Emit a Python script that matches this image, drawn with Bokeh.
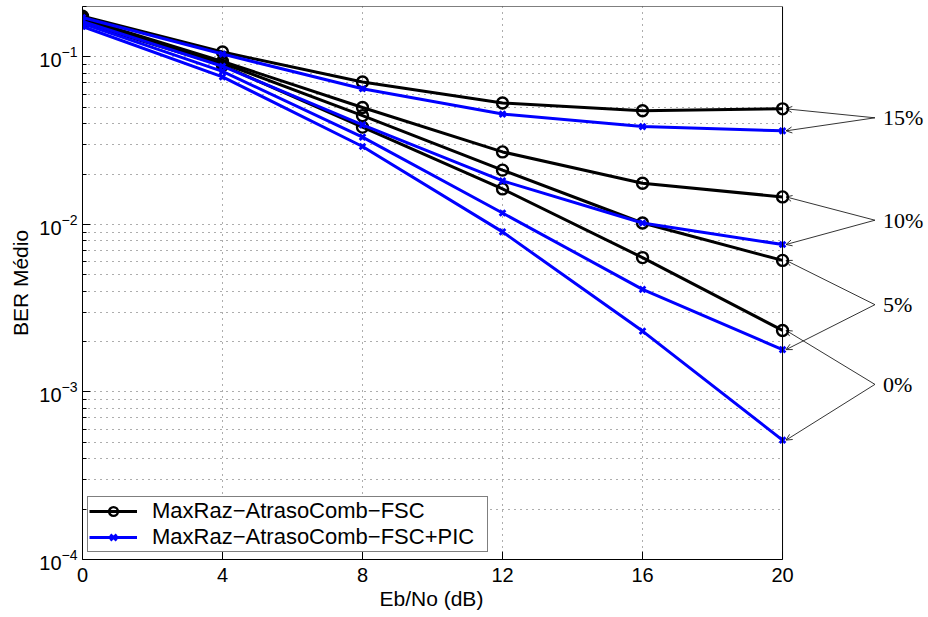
from bokeh.plotting import figure
from bokeh.models import (Range1d, FixedTicker, Legend, LegendItem, BoxAnnotation,
                          Arrow, OpenHead, Label, Title)
from bokeh.embed import file_html
from bokeh.resources import INLINE

# ---------------- data ----------------
ebno = [0, 4, 8, 12, 16, 20]

fsc_15 = [0.175, 0.107, 0.0709, 0.0531, 0.0477, 0.0490]
fsc_10 = [0.170, 0.094, 0.0499, 0.0271, 0.0176, 0.0146]
fsc_05 = [0.165, 0.092, 0.0446, 0.0211, 0.0102, 0.0061]
fsc_00 = [0.160, 0.089, 0.0381, 0.0163, 0.00634, 0.00233]

pic_15 = [0.172, 0.104, 0.0646, 0.0456, 0.0384, 0.0362]
pic_10 = [0.163, 0.088, 0.0393, 0.0182, 0.0102, 0.00759]
pic_05 = [0.158, 0.082, 0.0332, 0.0117, 0.0041, 0.00179]
pic_00 = [0.152, 0.076, 0.0292, 0.00903, 0.00231, 0.000516]

legend_labels = ["MaxRaz\u2212AtrasoComb\u2212FSC", "MaxRaz\u2212AtrasoComb\u2212FSC+PIC"]
x_ticks = [0, 4, 8, 12, 16, 20]
y_ticks = [1e-4, 1e-3, 1e-2, 1e-1]
X_MIN, X_MAX = 0, 20
Y_MIN, Y_MAX = 1e-4, 0.2

annot_text = ["15%", "10%", "5%", "0%"]
annot_y = [0.0433, 0.0106, 0.00332, 0.00111]
annot_fsc = [fsc_15, fsc_10, fsc_05, fsc_00]
annot_pic = [pic_15, pic_10, pic_05, pic_00]

# ---------------- figure ----------------
FONT = "Liberation Sans"
# frame widened to the right so that the annotation arrows/labels can be drawn;
# the part beyond x=20 is masked in white.
VIEW_MAX = 24.17
p = figure(width=928, height=617, x_range=Range1d(X_MIN, VIEW_MAX), y_range=Range1d(Y_MIN, Y_MAX),
           y_axis_type="log", output_backend="svg", toolbar_location=None,
           min_border_left=82, min_border_right=0, min_border_top=6, min_border_bottom=58,
           background_fill_color="white", border_fill_color="white")
p.outline_line_color = None

minor = [k * 10.0 ** e for e in (-4, -3, -2) for k in range(2, 10)] + [0.2]
xt = FixedTicker(ticks=x_ticks)
yt = FixedTicker(ticks=y_ticks, minor_ticks=minor)

xa = p.below[0]
ya = p.left[0]
xa.ticker = xt
ya.ticker = yt
xa.bounds = (X_MIN, X_MAX)
for ax in (xa, ya):
    ax.major_label_text_font = FONT
    ax.major_label_text_font_size = "20px"
    ax.major_label_text_color = "black"
    ax.axis_label_text_font = FONT
    ax.axis_label_text_font_size = "21px"
    ax.axis_label_text_font_style = "normal"
    ax.axis_label_text_color = "black"
    ax.axis_line_color = "black"
    ax.major_tick_in = 8
    ax.major_tick_out = 0
    ax.minor_tick_in = 4
    ax.minor_tick_out = 0
    ax.major_tick_line_color = "black"
    ax.minor_tick_line_color = "black"
ya.axis_label = "BER Médio"
xa.major_label_standoff = 8
ya.major_label_standoff = 5
ya.axis_label_standoff = 4

# x-axis title, centred under the axes box (0..20) rather than the widened frame
p.add_layout(Title(text="Eb/No (dB)", align="left", offset=297, standoff=0,
                   text_font=FONT, text_font_size="21px", text_font_style="normal",
                   text_color="black"), "below")

p.xgrid.ticker = xt
p.ygrid.ticker = yt
for g in (p.xgrid, p.ygrid):
    g.grid_line_color = "#333333"
    g.grid_line_dash = "1 5"
    g.grid_line_width = 1
    g.grid_line_alpha = 0.8
p.ygrid.minor_grid_line_color = "#333333"
p.ygrid.minor_grid_line_dash = "1 5"
p.ygrid.minor_grid_line_alpha = 0.8

# mask grid lines outside the axes box
p.add_layout(BoxAnnotation(left=X_MAX, fill_color="white", fill_alpha=1, line_color=None,
                           level="underlay"))

# ---------------- series ----------------
fsc_series = [fsc_15, fsc_10, fsc_05, fsc_00]
pic_series = [pic_15, pic_10, pic_05, pic_00]

fsc_r = []
for s in fsc_series:
    l = p.line(ebno, s, line_color="black", line_width=3)
    m = p.scatter(ebno, s, marker="circle", size=11, fill_color=None,
                  line_color="black", line_width=2.4)
    fsc_r.append((l, m))
pic_r = []
for s in pic_series:
    l = p.line(ebno, s, line_color="#0000ff", line_width=3)
    m = p.scatter(ebno, s, marker="x", size=8, line_color="#0000ff", line_width=2.8)
    pic_r.append((l, m))

# axes box
p.add_layout(BoxAnnotation(left=X_MIN, right=X_MAX, bottom=Y_MIN, top=Y_MAX,
                           fill_alpha=0, line_color="black", line_width=1, line_alpha=1))

legend = Legend(items=[LegendItem(label=legend_labels[0], renderers=list(fsc_r[0])),
                       LegendItem(label=legend_labels[1], renderers=list(pic_r[0]))],
                location=(5, 7), margin=0, padding=1, spacing=0,
                glyph_width=48, glyph_height=22, label_height=22, label_standoff=15,
                label_width=334,
                label_text_font=FONT, label_text_font_size="22px",
                label_text_color="black", border_line_color="black", border_line_width=1,
                background_fill_color="white", background_fill_alpha=1)
p.add_layout(legend, "center")

# ---------------- annotations ----------------
x_conv = 22.64
x_text = 22.87
for txt, ly, sf, sp in zip(annot_text, annot_y, annot_fsc, annot_pic):
    for ye in (sf[-1], sp[-1]):
        p.add_layout(Arrow(end=OpenHead(size=6, line_width=0.8, line_color="black"),
                           x_start=x_conv, y_start=ly, x_end=ebno[-1] + 0.1, y_end=ye,
                           line_width=0.8, line_color="black"))
    p.add_layout(Label(x=x_text, y=ly, text=txt, text_font="Liberation Serif",
                       text_font_size="22px", text_baseline="middle", text_color="black"))

open("out.html", "w").write(file_html(p, INLINE))
